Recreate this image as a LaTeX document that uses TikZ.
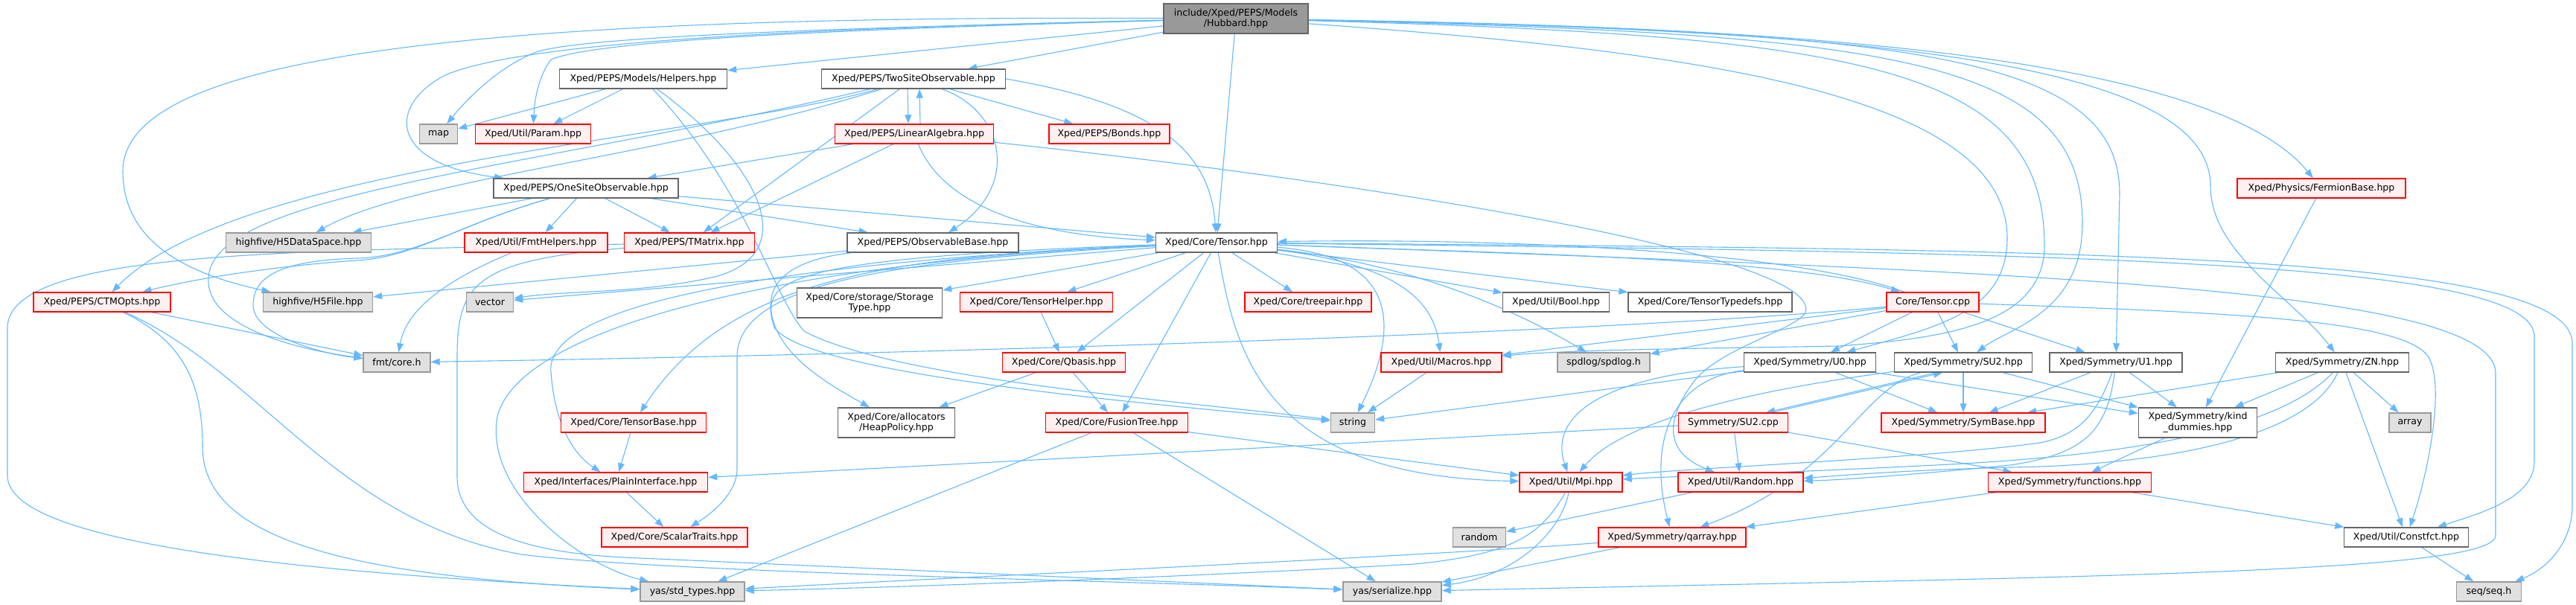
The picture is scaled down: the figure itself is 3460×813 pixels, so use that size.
\documentclass[tikz,border=0pt]{standalone}
\usepackage{fontspec}
\setmainfont{DejaVu Sans}
\usetikzlibrary{arrows.meta}
\definecolor{depblue}{HTML}{63B8FF}
\definecolor{boxgray}{HTML}{666666}
\definecolor{sysgray}{HTML}{999999}
\definecolor{sysfill}{HTML}{E0E0E0}
\definecolor{truncfill}{HTML}{FFF0F0}
\definecolor{rootfill}{HTML}{999999}
\pgfdeclarelayer{background}
\pgfsetlayers{background,main}

\begin{document}
\begin{tikzpicture}[x=0.5pt, y=-0.5pt, >={Triangle[length=6pt,width=4.4pt]},
  box/.style={rectangle, inner sep=0pt, minimum height=13pt, line width=0.7pt, align=center, font=\fontsize{6.3}{7.4}\selectfont},
  docfile/.style={box, draw=boxgray, fill=white},
  truncfile/.style={box, draw=red, fill=truncfill},
  sysfile/.style={box, draw=sysgray, fill=sysfill},
  rootfile/.style={box, draw=boxgray, fill=rootfill, minimum height=20pt},
  twoline/.style={minimum height=20pt},
  dep/.style={->, draw=depblue, line width=0.55pt}]
\useasboundingbox (0,0) rectangle (3460,813);

\node[rootfile, minimum width=97pt] (hubbard) at (1660,25) {include/Xped/PEPS/Models\\/Hubbard.hpp};
\node[docfile, minimum width=112.5pt] (helpers) at (864,106) {Xped/PEPS/Models/Helpers.hpp};
\node[docfile, minimum width=123.5pt] (twosite) at (1227,106) {Xped/PEPS/TwoSiteObservable.hpp};
\node[sysfile, minimum width=25.5pt] (map) at (589,180) {map};
\node[truncfile, minimum width=77.5pt] (param) at (716,180) {Xped/Util/Param.hpp};
\node[truncfile, minimum width=106.5pt] (linalg) at (1228,180) {Xped/PEPS/LinearAlgebra.hpp};
\node[truncfile, minimum width=81pt] (bonds) at (1490,180) {Xped/PEPS/Bonds.hpp};
\node[docfile, minimum width=124pt] (onesite) at (787,253) {Xped/PEPS/OneSiteObservable.hpp};
\node[truncfile, minimum width=113pt] (fermion) at (3118,253) {Xped/Physics/FermionBase.hpp};
\node[sysfile, minimum width=97.5pt] (h5space) at (401,326) {highfive/H5DataSpace.hpp};
\node[truncfile, minimum width=96pt] (fmthelp) at (720,326) {Xped/Util/FmtHelpers.hpp};
\node[truncfile, minimum width=87.5pt] (tmatrix) at (926,326) {Xped/PEPS/TMatrix.hpp};
\node[docfile, minimum width=115pt] (obsbase) at (1253,326) {Xped/PEPS/ObservableBase.hpp};
\node[docfile, minimum width=81.5pt] (tensor) at (1634,326) {Xped/Core/Tensor.hpp};
\node[truncfile, minimum width=92pt] (ctmopts) at (137,406) {Xped/PEPS/CTMOpts.hpp};
\node[sysfile, minimum width=73.5pt] (h5file) at (427,406) {highfive/H5File.hpp};
\node[sysfile, minimum width=31.5pt] (vector) at (658,406) {vector};
\node[docfile, twoline, minimum width=97.5pt] (storage) at (1168,407) {Xped/Core/storage/Storage\\Type.hpp};
\node[truncfile, minimum width=102.5pt] (tenshelp) at (1392,406) {Xped/Core/TensorHelper.hpp};
\node[truncfile, minimum width=85pt] (treepair) at (1757,406) {Xped/Core/treepair.hpp};
\node[docfile, minimum width=71.5pt] (bool) at (2090,406) {Xped/Util/Bool.hpp};
\node[docfile, minimum width=110pt] (typedefs) at (2297,406) {Xped/Core/TensorTypedefs.hpp};
\node[truncfile, minimum width=62pt] (tenscpp) at (2596,406) {Core/Tensor.cpp};
\node[sysfile, minimum width=45pt] (fmtcore) at (533,487) {fmt/core.h};
\node[truncfile, minimum width=82.5pt] (qbasis) at (1429,487) {Xped/Core/Qbasis.hpp};
\node[truncfile, minimum width=81pt] (macros) at (1936,487) {Xped/Util/Macros.hpp};
\node[sysfile, minimum width=62pt] (spdlog) at (2154,487) {spdlog/spdlog.h};
\node[docfile, minimum width=88.5pt] (symu0) at (2431,487) {Xped/Symmetry/U0.hpp};
\node[docfile, minimum width=92.5pt] (symsu2) at (2637,487) {Xped/Symmetry/SU2.hpp};
\node[docfile, minimum width=89pt] (symu1) at (2842,487) {Xped/Symmetry/U1.hpp};
\node[docfile, minimum width=89.5pt] (symzn) at (3146,487) {Xped/Symmetry/ZN.hpp};
\node[truncfile, minimum width=97.5pt] (tensbase) at (851,568) {Xped/Core/TensorBase.hpp};
\node[docfile, twoline, minimum width=78.5pt] (heap) at (1204,568) {Xped/Core/allocators\\/HeapPolicy.hpp};
\node[truncfile, minimum width=95.5pt] (fusion) at (1500,568) {Xped/Core/FusionTree.hpp};
\node[sysfile, minimum width=29.5pt] (string) at (1817,568) {string};
\node[truncfile, minimum width=73.5pt] (su2cpp) at (2328,568) {Symmetry/SU2.cpp};
\node[truncfile, minimum width=110pt] (symbase) at (2637,568) {Xped/Symmetry/SymBase.hpp};
\node[docfile, twoline, minimum width=79.5pt] (kind) at (2952,568) {Xped/Symmetry/kind\\\_dummies.hpp};
\node[sysfile, minimum width=28pt] (array) at (3237,568) {array};
\node[truncfile, minimum width=123.5pt] (plain) at (827,648) {Xped/Interfaces/PlainInterface.hpp};
\node[truncfile, minimum width=69pt] (mpi) at (2110,648) {Xped/Util/Mpi.hpp};
\node[truncfile, minimum width=84pt] (random) at (2338,648) {Xped/Util/Random.hpp};
\node[truncfile, minimum width=109.5pt] (functions) at (2780,648) {Xped/Symmetry/functions.hpp};
\node[truncfile, minimum width=98pt] (scalar) at (906,722) {Xped/Core/ScalarTraits.hpp};
\node[sysfile, minimum width=35.5pt] (stdrandom) at (1987,722) {random};
\node[truncfile, minimum width=99pt] (qarray) at (2246,722) {Xped/Symmetry/qarray.hpp};
\node[docfile, minimum width=83.5pt] (constfct) at (3232,722) {Xped/Util/Constfct.hpp};
\node[sysfile, minimum width=70pt] (stdtypes) at (930,795) {yas/std\_types.hpp};
\node[sysfile, minimum width=66pt] (serialize) at (1870,795) {yas/serialize.hpp};
\node[sysfile, minimum width=43.5pt] (seq) at (3343,795) {seq/seq.h};

\begin{pgfonlayer}{background}
\draw[dep] (hubbard) -- (helpers);
\draw[dep] (hubbard) -- (twosite);
\draw[dep] (hubbard) -- (tensor);
\draw[dep] (hubbard) .. controls (1100,38) and (780,50) .. (720,70) .. controls (670,90) and (630,130) .. (map);
\draw[dep] (hubbard) .. controls (1100,40) and (800,55) .. (740,80) .. controls (725,100) and (718,130) .. (param);
\draw[dep] (hubbard) .. controls (1000,40) and (700,60) .. (600,100) .. controls (520,140) and (520,220) .. (onesite);
\draw[dep] (hubbard) .. controls (600,20) and (165,80) .. (165,230) .. controls (165,330) and (260,370) .. (h5file);
\draw[dep] (hubbard) .. controls (2300,35) and (2960,60) .. (fermion);
\draw[dep] (hubbard) .. controls (2500,40) and (2969,80) .. (2969,250) .. controls (2969,340) and (3080,400) .. (symzn);
\draw[dep] (hubbard) .. controls (2550,42) and (2847,70) .. (2847,260) -- (symu1);
\draw[dep] (hubbard) .. controls (2550,45) and (2797,80) .. (2797,300) .. controls (2797,420) and (2700,440) .. (symsu2);
\draw[dep] (hubbard) .. controls (2500,48) and (2746,90) .. (2746,330) .. controls (2746,440) and (2600,455) .. (2470,465) .. controls (2300,468) and (2100,470) .. (macros);
\draw[dep] (hubbard) .. controls (2300,70) and (2696,130) .. (2696,320) .. controls (2696,420) and (2600,440) .. (symu0);

\draw[dep] (twosite) .. controls (950,185) and (320,220) .. (ctmopts);
\draw[dep] (twosite) .. controls (700,230) and (270,260) .. (280,380) .. controls (283,440) and (400,470) .. (fmtcore);
\draw[dep] (twosite) .. controls (900,210) and (550,240) .. (h5space);
\draw[dep] (twosite) -- (tmatrix);
\draw[dep] ([xshift=-4pt]twosite.south) -- ([xshift=-4pt]linalg.north);
\draw[dep] ([xshift=4pt]linalg.north) -- ([xshift=4pt]twosite.south);
\draw[dep] (twosite) -- (bonds);
\draw[dep] (twosite) .. controls (1350,150) and (1370,250) .. (obsbase);
\draw[dep] (twosite.east) .. controls (1550,140) and (1625,200) .. (tensor);

\draw[dep] (linalg) -- (onesite);
\draw[dep] (linalg) -- (tmatrix);
\draw[dep] (linalg) .. controls (1260,260) and (1350,315) .. (tensor);
\draw[dep] (linalg) .. controls (1800,240) and (2450,340) .. (2425,420) .. controls (2410,445) and (2300,470) .. (2270,520) .. controls (2235,570) and (2240,610) .. (random);

\draw[dep] (helpers) -- (map);
\draw[dep] (helpers) -- (param);
\draw[dep] (helpers) .. controls (1020,220) and (1080,340) .. (960,372) .. controls (860,395) and (760,390) .. (vector);
\draw[dep] (helpers) .. controls (1000,250) and (1040,400) .. (1080,445) .. controls (1200,510) and (1600,540) .. (string);

\draw[dep] (onesite) -- (h5space);
\draw[dep] (onesite) .. controls (620,300) and (560,345) .. (480,350) .. controls (400,355) and (280,370) .. (ctmopts);
\draw[dep] (onesite) .. controls (620,300) and (560,345) .. (480,347) .. controls (380,350) and (340,370) .. (340,410) .. controls (340,450) and (430,475) .. (fmtcore);
\draw[dep] (onesite) -- (fmthelp);
\draw[dep] (onesite) -- (tmatrix);
\draw[dep] (onesite) -- (obsbase);
\draw[dep] (onesite) -- (tensor);
\draw[dep] (fmthelp) .. controls (590,380) and (545,420) .. (fmtcore);

\draw[dep] (tmatrix) .. controls (640,350) and (614,380) .. (614,480) -- (614,640) .. controls (614,720) and (720,745) .. (860,750) -- (serialize);
\draw[dep] (tmatrix) .. controls (400,338) and (12,335) .. (10,440) -- (10,640) .. controls (12,730) and (400,770) .. (stdtypes);
\draw[dep] (ctmopts) -- (fmtcore);
\draw[dep] (ctmopts) .. controls (250,460) and (272,520) .. (272,600) .. controls (272,720) and (450,775) .. (stdtypes);
\draw[dep] (ctmopts) .. controls (350,500) and (450,700) .. (700,745) .. controls (900,770) and (1500,780) .. (serialize);

\draw[dep] (obsbase) -- (h5file);
\draw[dep] (obsbase) .. controls (1060,350) and (1020,380) .. (1040,440) .. controls (1080,500) and (1500,540) .. (string);

\draw[dep] (tensor) -- (vector);
\draw[dep] (tensor) -- (storage);
\draw[dep] (tensor) -- (tenshelp);
\draw[dep] (tensor) -- (qbasis);
\draw[dep] (tensor) -- (fusion);
\draw[dep] (tensor) -- (treepair);
\draw[dep] (tensor) -- (bool);
\draw[dep] (tensor) -- (typedefs);
\draw[dep] (tensor) .. controls (1200,345) and (980,370) .. (tensbase);
\draw[dep] (tensor) .. controls (1100,350) and (730,400) .. (740,500) .. controls (745,570) and (770,610) .. (plain);
\draw[dep] (tensor) .. controls (1100,350) and (700,430) .. (668,560) .. controls (650,660) and (780,760) .. (stdtypes);
\draw[dep] (tensor) .. controls (1200,350) and (990,380) .. (990,480) -- (990,630) .. controls (990,670) and (940,700) .. (scalar);
\draw[dep] (tensor) .. controls (1100,345) and (1030,370) .. (1036,420) .. controls (1045,480) and (1120,520) .. (heap);
\draw[dep] (tensor) .. controls (1660,480) and (1700,640) .. (mpi);
\draw[dep] (tensor) .. controls (1880,345) and (1880,440) .. (string);
\draw[dep] (tensor) .. controls (1870,355) and (1925,400) .. (macros);
\draw[dep] (tensor) .. controls (1850,350) and (1990,390) .. (spdlog);
\draw[dep] (tensor) .. controls (2000,340) and (2400,345) .. (tenscpp);
\draw[dep] (tenscpp) .. controls (2400,335) and (2000,320) .. (tensor);
\draw[dep] (tensor) .. controls (2800,340) and (3395,350) .. (3404,450) -- (3404,620) .. controls (3404,670) and (3330,690) .. (constfct);
\draw[dep] (tensor) .. controls (2800,335) and (3450,340) .. (3455,460) -- (3455,680) .. controls (3455,730) and (3420,765) .. (seq);
\draw[dep] (tensor) .. controls (2700,365) and (3345,385) .. (3352,500) -- (3352,720) .. controls (3350,770) and (2800,775) .. (serialize);

\draw[dep] (tenscpp) .. controls (2200,445) and (1300,475) .. (fmtcore);
\draw[dep] (tenscpp) -- (macros);
\draw[dep] (tenscpp) -- (spdlog);
\draw[dep] (tenscpp) -- (symu0);
\draw[dep] (tenscpp) -- (symsu2);
\draw[dep] (tenscpp) -- (symu1);
\draw[dep] (tenscpp) .. controls (3000,420) and (3230,430) .. (3262,480) .. controls (3285,520) and (3260,640) .. (constfct);

\draw[dep] (symu0) -- (string);
\draw[dep] (symu0) .. controls (2150,505) and (2080,560) .. (mpi);
\draw[dep] (symu0) -- (symbase);
\draw[dep] (symu0) -- (kind);
\draw[dep] (symu0) .. controls (2240,510) and (2215,600) .. (qarray);

\draw[dep] (symsu2) -- (symbase);
\draw[dep] (symsu2) -- (kind);
\draw[dep] ([xshift=-18pt]symsu2.south) -- ([xshift=22pt]su2cpp.north);
\draw[dep] ([xshift=26pt]su2cpp.north) -- ([xshift=-14pt]symsu2.south);
\draw[dep] (symsu2) .. controls (2350,525) and (2180,565) .. (mpi);
\draw[dep] (symsu2) .. controls (2500,520) and (2470,640) .. (qarray);
\draw[dep] (su2cpp) -- (random);
\draw[dep] (su2cpp) -- (plain);
\draw[dep] (su2cpp) -- (functions);

\draw[dep] (symu1) -- (symbase);
\draw[dep] (symu1) -- (kind);
\draw[dep] (symu1) .. controls (2815,560) and (2790,585) .. (2740,595) .. controls (2600,615) and (2250,630) .. (mpi);
\draw[dep] (symu1) .. controls (2830,580) and (2800,610) .. (2700,625) .. controls (2600,635) and (2480,645) .. (random);

\draw[dep] (symzn) -- (symbase);
\draw[dep] (symzn) -- (kind);
\draw[dep] (symzn) .. controls (3050,590) and (2800,615) .. (2600,625) .. controls (2400,635) and (2250,640) .. (mpi);
\draw[dep] (symzn) .. controls (3100,590) and (2900,625) .. (2700,628) .. controls (2550,632) and (2460,640) .. (random);
\draw[dep] (symzn) -- (constfct);
\draw[dep] (symzn) -- (array);

\draw[dep] (fermion) -- (kind);
\draw[dep] (kind) -- (functions);
\draw[dep] (functions) -- (constfct);
\draw[dep] (functions) -- (qarray);
\draw[dep] (constfct) -- (seq);

\draw[dep] (tenshelp) -- (qbasis);
\draw[dep] (qbasis) -- (heap);
\draw[dep] (qbasis) -- (fusion);
\draw[dep] (tensbase) -- (plain);
\draw[dep] (plain) -- (scalar);
\draw[dep] (fusion) -- (stdtypes);
\draw[dep] (fusion) -- (mpi);
\draw[dep] (fusion) -- (serialize);
\draw[dep] (macros) -- (string);
\draw[dep] (random) -- (stdrandom);
\draw[dep] (mpi) .. controls (2095,720) and (2030,775) .. (serialize);
\draw[dep] (mpi) .. controls (2070,720) and (2030,745) .. (1900,758) .. controls (1600,775) and (1200,790) .. (stdtypes);
\draw[dep] (qarray) -- (serialize);
\draw[dep] (qarray) .. controls (1900,748) and (1300,775) .. (stdtypes);
\end{pgfonlayer}
\end{tikzpicture}
\end{document}
